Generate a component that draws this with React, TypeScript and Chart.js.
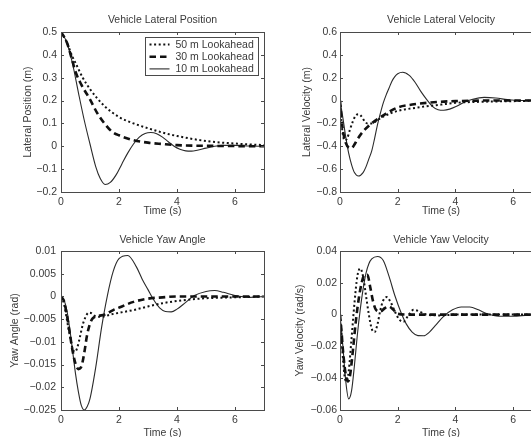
import React, { useEffect, useRef } from "react";
import { Chart, registerables } from "chart.js";
Chart.register(...registerables);

// ---------- text ----------
const seriesLabels = ["50 m Lookahead", "30 m Lookahead", "10 m Lookahead"];
const panelTitles = ["Vehicle Lateral Position", "Vehicle Lateral Velocity", "Vehicle Yaw Angle", "Vehicle Yaw Velocity"];
const yTitles = ["Lateral Position (m)", "Lateral Velocity (m)", "Yaw Angle (rad)", "Yaw Velocity (rad/s)"];
const xTitle = "Time (s)";

// ---------- axis ranges ----------
const xRange = [0, 7, 2];
const yPosRange = [-0.2, 0.5, 0.1];
const yVelRange = [-0.8, 0.6, 0.2];
const yYawRange = [-0.025, 0.01, 0.005];
const yYawVelRange = [-0.06, 0.04, 0.02];

// ---------- Lateral position ----------
const pos50T = [0, 0.2, 0.4, 0.5, 0.75, 1.0, 1.5, 2.0, 2.5, 3.0, 3.5, 4.0, 5.0, 6.0, 7];
const pos50 = [0.5, 0.455, 0.39, 0.365, 0.3, 0.25, 0.176, 0.128, 0.1, 0.079, 0.06, 0.045, 0.023, 0.012, 0.005];
const pos30T = [0, 0.2, 0.4, 0.5, 0.7, 1.0, 1.25, 1.5, 1.75, 2.0, 2.5, 3.0, 3.5, 4.0, 5.0, 6.0, 7];
const pos30 = [0.5, 0.455, 0.37, 0.326, 0.27, 0.205, 0.145, 0.1, 0.065, 0.048, 0.027, 0.016, 0.01, 0.005, 0.002, 0.001, 0];
const pos10T = [0, 0.2, 0.4, 0.6, 0.8, 1.0, 1.2, 1.35, 1.52, 1.7, 1.9, 2.1, 2.3, 2.5, 2.7, 2.9, 3.1, 3.3, 3.5, 3.7, 3.9, 4.1, 4.3, 4.5, 4.7, 5.0, 5.3, 5.6, 6.0, 6.5, 7];
const pos10 = [0.5, 0.455, 0.36, 0.235, 0.115, 0.01, -0.09, -0.14, -0.167, -0.158, -0.125, -0.077, -0.03, 0.01, 0.04, 0.056, 0.06, 0.055, 0.04, 0.02, 0.0, -0.013, -0.02, -0.021, -0.017, -0.008, 0.0, 0.004, 0.004, 0.001, 0];

// ---------- Lateral velocity ----------
const vel50T = [0, 0.05, 0.1, 0.17, 0.25, 0.35, 0.45, 0.55, 0.65, 0.75, 0.85, 0.95, 1.1, 1.3, 1.5, 2.0, 2.5, 3.0, 3.5, 4.0, 5.0, 6.0, 7];
const vel50 = [0, -0.18, -0.3, -0.35, -0.33, -0.25, -0.18, -0.13, -0.12, -0.14, -0.18, -0.2, -0.2, -0.17, -0.14, -0.09, -0.068, -0.05, -0.035, -0.02, -0.01, -0.005, 0];
const vel30T = [0, 0.05, 0.1, 0.2, 0.3, 0.4, 0.5, 0.6, 0.8, 1.0, 1.2, 1.5, 2.0, 2.5, 3.0, 3.5, 4.0, 5.0, 7];
const vel30 = [0, -0.15, -0.26, -0.37, -0.41, -0.415, -0.385, -0.34, -0.27, -0.22, -0.18, -0.13, -0.06, -0.035, -0.02, -0.01, -0.005, 0, 0];
const vel10T = [0, 0.1, 0.2, 0.3, 0.4, 0.5, 0.64, 0.8, 0.9, 1.0, 1.1, 1.2, 1.3, 1.4, 1.5, 1.6, 1.7, 1.8, 1.9, 2.0, 2.17, 2.4, 2.6, 2.8, 3.0, 3.2, 3.4, 3.6, 3.8, 4.0, 4.3, 4.6, 5.0, 5.4, 5.8, 6.2, 7];
const vel10 = [0, -0.15, -0.32, -0.46, -0.56, -0.63, -0.66, -0.63, -0.58, -0.51, -0.44, -0.33, -0.21, -0.11, -0.02, 0.05, 0.11, 0.17, 0.21, 0.235, 0.248, 0.22, 0.16, 0.08, 0.01, -0.05, -0.08, -0.085, -0.075, -0.055, -0.015, 0.012, 0.028, 0.022, 0.008, 0, 0];

// ---------- Yaw angle ----------
const yaw50T = [0, 0.1, 0.2, 0.3, 0.4, 0.48, 0.55, 0.65, 0.75, 0.85, 0.95, 1.05, 1.2, 1.4, 1.7, 2.0, 2.5, 3.0, 3.5, 4.0, 5.0, 6.0, 7];
const yaw50 = [0, -0.0015, -0.005, -0.0085, -0.0115, -0.0122, -0.0115, -0.009, -0.0062, -0.0045, -0.0036, -0.0037, -0.0044, -0.0045, -0.004, -0.0036, -0.003, -0.0022, -0.0015, -0.001, -0.0004, -0.0002, 0];
const yaw30T = [0, 0.1, 0.2, 0.3, 0.4, 0.5, 0.6, 0.7, 0.8, 0.9, 1.0, 1.1, 1.3, 1.5, 1.8, 2.1, 2.5, 3.0, 3.5, 4.0, 7];
const yaw30 = [0, -0.001, -0.004, -0.008, -0.012, -0.0148, -0.016, -0.0155, -0.0125, -0.0085, -0.006, -0.0048, -0.0043, -0.004, -0.003, -0.0022, -0.0012, -0.0005, -0.0002, 0, 0];
const yaw10T = [0, 0.1, 0.2, 0.3, 0.4, 0.5, 0.6, 0.7, 0.8, 0.9, 1.0, 1.2, 1.4, 1.6, 1.8, 2.0, 2.3, 2.6, 2.8, 3.0, 3.2, 3.4, 3.6, 3.8, 4.0, 4.3, 4.6, 5.0, 5.3, 5.6, 6.0, 6.5, 7];
const yaw10 = [0, -0.0007, -0.003, -0.007, -0.012, -0.017, -0.021, -0.024, -0.025, -0.0243, -0.0225, -0.0155, -0.0068, 0.0002, 0.0055, 0.0083, 0.009, 0.0065, 0.0038, 0.0015, -0.0008, -0.0025, -0.0033, -0.0034, -0.0028, -0.0013, 0.0002, 0.0011, 0.0013, 0.0009, 0.0002, -0.0002, 0];

// ---------- Yaw velocity ----------
const yv50T = [0, 0.05, 0.1, 0.17, 0.23, 0.3, 0.4, 0.5, 0.6, 0.7, 0.8, 0.9, 1.0, 1.1, 1.2, 1.3, 1.4, 1.5, 1.62, 1.75, 1.9, 2.05, 2.2, 2.35, 2.55, 2.75, 3.0, 3.5, 4.0, 7];
const yv50 = [0, -0.012, -0.027, -0.04, -0.042, -0.036, -0.015, 0.007, 0.024, 0.029, 0.024, 0.012, 0.0, -0.009, -0.011, -0.006, 0.003, 0.009, 0.011, 0.008, 0.002, -0.003, -0.0045, -0.001, 0.003, 0.002, 0, -0.0005, 0, 0];
const yv30T = [0, 0.05, 0.1, 0.2, 0.28, 0.35, 0.45, 0.55, 0.65, 0.75, 0.85, 0.95, 1.05, 1.15, 1.25, 1.4, 1.55, 1.7, 1.85, 2.0, 2.5, 7];
const yv30 = [0, -0.01, -0.022, -0.038, -0.042, -0.038, -0.022, -0.004, 0.01, 0.02, 0.025, 0.025, 0.017, 0.008, 0.003, 0.002, 0.004, 0.005, 0.003, 0.0005, 0, 0];
const yv10T = [0, 0.1, 0.2, 0.3, 0.4, 0.5, 0.6, 0.7, 0.8, 0.9, 1.0, 1.1, 1.3, 1.5, 1.7, 1.9, 2.1, 2.3, 2.5, 2.7, 2.9, 3.1, 3.3, 3.6, 3.9, 4.2, 4.5, 4.8, 5.1, 5.5, 6.0, 6.5, 7];
const yv10 = [0, -0.02, -0.042, -0.053, -0.048, -0.032, -0.013, 0.003, 0.016, 0.026, 0.032, 0.035, 0.0365, 0.034, 0.024, 0.012, 0.002, -0.006, -0.011, -0.0132, -0.0133, -0.011, -0.007, -0.001, 0.003, 0.0048, 0.0048, 0.003, 0.0005, -0.001, -0.001, -0.0003, 0];

// ---------- styling ----------
const FONT_FAMILY = "'Liberation Sans', Arial, Helvetica, sans-serif";
const FONT_SIZE = 10.5;
const TEXT_COLOR = "#3a3a3a";
const AXIS_COLOR = "#4a4a4a";
const LINE_STYLES = [
  { borderColor: "#111", borderWidth: 2, borderDash: [2, 2.6] },
  { borderColor: "#111", borderWidth: 2.6, borderDash: [6.5, 4] },
  { borderColor: "#2a2a2a", borderWidth: 1.1, borderDash: [] as number[] },
];

type Layout = {
  left: number; top: number; w: number; h: number;
  yW: number; xH: number; padR: number; padT: number; titleY: number;
  yTitlePad: number; yTickPad: number; xTickPad: number; xTitlePad: number;
};

const layouts: Layout[] = [
  { left: 0, top: 0, w: 270, h: 218, yW: 61, xH: 26, padR: 6, padT: 32, titleY: 20, yTitlePad: 22, yTickPad: 4, xTickPad: 4, xTitlePad: 1 },
  { left: 270, top: 0, w: 280, h: 218, yW: 70, xH: 26, padR: 8, padT: 32, titleY: 20, yTitlePad: 31, yTickPad: 3, xTickPad: 4, xTitlePad: 1 },
  { left: 0, top: 218, w: 270, h: 226, yW: 61, xH: 34, padR: 6, padT: 33, titleY: 22, yTitlePad: 9, yTickPad: 5, xTickPad: 4, xTitlePad: 5 },
  { left: 270, top: 218, w: 280, h: 226, yW: 70, xH: 34, padR: 8, padT: 33, titleY: 22, yTitlePad: 24, yTickPad: 3, xTickPad: 4, xTitlePad: 5 },
];

const zip = (t: number[], v: number[]) => t.map((x, i) => ({ x, y: v[i] }));

const panelSeries = [
  [zip(pos50T, pos50), zip(pos30T, pos30), zip(pos10T, pos10)],
  [zip(vel50T, vel50), zip(vel30T, vel30), zip(vel10T, vel10)],
  [zip(yaw50T, yaw50), zip(yaw30T, yaw30), zip(yaw10T, yaw10)],
  [zip(yv50T, yv50), zip(yv30T, yv30), zip(yv10T, yv10)],
];
const panelRanges = [yPosRange, yVelRange, yYawRange, yYawVelRange];
const panelLegend = [true, false, false, false];

const fmt = (v: number) => {
  const s = String(parseFloat(Number(v).toFixed(6)));
  return s.replace("-", "\u2212");
};

const framePlugin = {
  id: "matlabFrame",
  afterDatasetsDraw(chart: any, _args: any, opts: any) {
    const { ctx, chartArea: ca } = chart;
    const xs = chart.scales.x;
    const ys = chart.scales.y;
    ctx.save();
    ctx.strokeStyle = AXIS_COLOR;
    ctx.lineWidth = 1;
    ctx.strokeRect(Math.round(ca.left) + 0.5, Math.round(ca.top) + 0.5, Math.round(ca.right - ca.left), Math.round(ca.bottom - ca.top));
    const tl = 3;
    ctx.beginPath();
    xs.ticks.forEach((t: any) => {
      const px = Math.round(xs.getPixelForValue(t.value)) + 0.5;
      ctx.moveTo(px, ca.bottom); ctx.lineTo(px, ca.bottom - tl);
      ctx.moveTo(px, ca.top); ctx.lineTo(px, ca.top + tl);
    });
    ys.ticks.forEach((t: any) => {
      const py = Math.round(ys.getPixelForValue(t.value)) + 0.5;
      ctx.moveTo(ca.left, py); ctx.lineTo(ca.left + tl, py);
      ctx.moveTo(ca.right, py); ctx.lineTo(ca.right - tl, py);
    });
    ctx.stroke();

    // title
    ctx.fillStyle = TEXT_COLOR;
    ctx.font = `${FONT_SIZE}px ${FONT_FAMILY}`;
    ctx.textAlign = "center";
    ctx.textBaseline = "middle";
    ctx.fillText(opts.title, (ca.left + ca.right) / 2, opts.titleY);

    // legend
    if (opts.legend) {
      const ds = chart.data.datasets;
      const textW = Math.max(...ds.map((d: any) => ctx.measureText(d.label).width));
      const boxW = 4 + 20 + 6 + textW + 5;
      const boxH = 38;
      const bx = Math.round(ca.right - 6 - boxW) + 0.5;
      const by = Math.round(ca.top + 5) + 0.5;
      ctx.fillStyle = "#fff";
      ctx.fillRect(bx, by, boxW, boxH);
      ctx.strokeStyle = AXIS_COLOR;
      ctx.lineWidth = 1;
      ctx.setLineDash([]);
      ctx.strokeRect(bx, by, Math.round(boxW), boxH);
      ds.forEach((d: any, i: number) => {
        const cy = by + 7 + i * 12.2;
        ctx.save();
        ctx.strokeStyle = d.borderColor;
        ctx.lineWidth = d.borderWidth;
        ctx.setLineDash(d.borderDash || []);
        ctx.beginPath();
        ctx.moveTo(bx + 4, cy);
        ctx.lineTo(bx + 24, cy);
        ctx.stroke();
        ctx.restore();
        ctx.fillStyle = TEXT_COLOR;
        ctx.textAlign = "left";
        ctx.textBaseline = "middle";
        ctx.fillText(d.label, bx + 30, cy + 0.5);
      });
    }
    ctx.restore();
  },
};

function Panel({ idx }: { idx: number }) {
  const ref = useRef<HTMLCanvasElement | null>(null);
  const L = layouts[idx];
  useEffect(() => {
    if (!ref.current) return;
    const [ymin, ymax, ystep] = panelRanges[idx];
    const font = { family: FONT_FAMILY, size: FONT_SIZE };
    const chart = new Chart(ref.current, {
      type: "line",
      data: {
        datasets: panelSeries[idx].map((pts, i) => ({
          label: seriesLabels[i],
          data: pts,
          ...LINE_STYLES[i],
          pointRadius: 0,
          fill: false,
          cubicInterpolationMode: "monotone" as const,
          borderCapStyle: "butt" as const,
        })),
      },
      options: {
        responsive: false,
        animation: false,
        events: [],
        layout: { padding: { left: 0, right: L.padR, top: L.padT, bottom: 0 } },
        plugins: {
          legend: { display: false },
          title: { display: false },
          tooltip: { enabled: false },
          matlabFrame: { title: panelTitles[idx], titleY: L.titleY, legend: panelLegend[idx] },
        } as any,
        scales: {
          x: {
            type: "linear",
            min: xRange[0],
            max: xRange[1],
            grid: { display: false, drawTicks: false },
            border: { display: false },
            ticks: { stepSize: xRange[2], includeBounds: false, padding: L.xTickPad, color: TEXT_COLOR, font, maxRotation: 0, callback: (v: any) => fmt(v) },
            title: { display: true, text: xTitle, color: TEXT_COLOR, font, padding: { top: 0, bottom: L.xTitlePad } },
            afterFit: (s: any) => { s.height = L.xH; },
          },
          y: {
            type: "linear",
            min: ymin,
            max: ymax,
            grid: { display: false, drawTicks: false },
            border: { display: false },
            ticks: { stepSize: ystep, padding: L.yTickPad, color: TEXT_COLOR, font, autoSkip: false, callback: (v: any) => fmt(v) },
            title: { display: true, text: yTitles[idx], color: TEXT_COLOR, font, padding: { top: L.yTitlePad, bottom: 0 } },
            afterFit: (s: any) => { s.width = L.yW; },
          },
        },
      },
      plugins: [framePlugin],
    } as any);
    return () => chart.destroy();
  }, [idx]);
  return (
    <canvas
      ref={ref}
      width={L.w}
      height={L.h}
      style={{ position: "absolute", left: L.left, top: L.top, width: L.w, height: L.h }}
    />
  );
}

export default function App() {
  return (
    <div style={{ position: "absolute", left: 0, top: 0, width: 531, height: 437, overflow: "hidden", background: "#fff" }}>
      {[0, 1, 2, 3].map((i) => (
        <Panel key={i} idx={i} />
      ))}
    </div>
  );
}
